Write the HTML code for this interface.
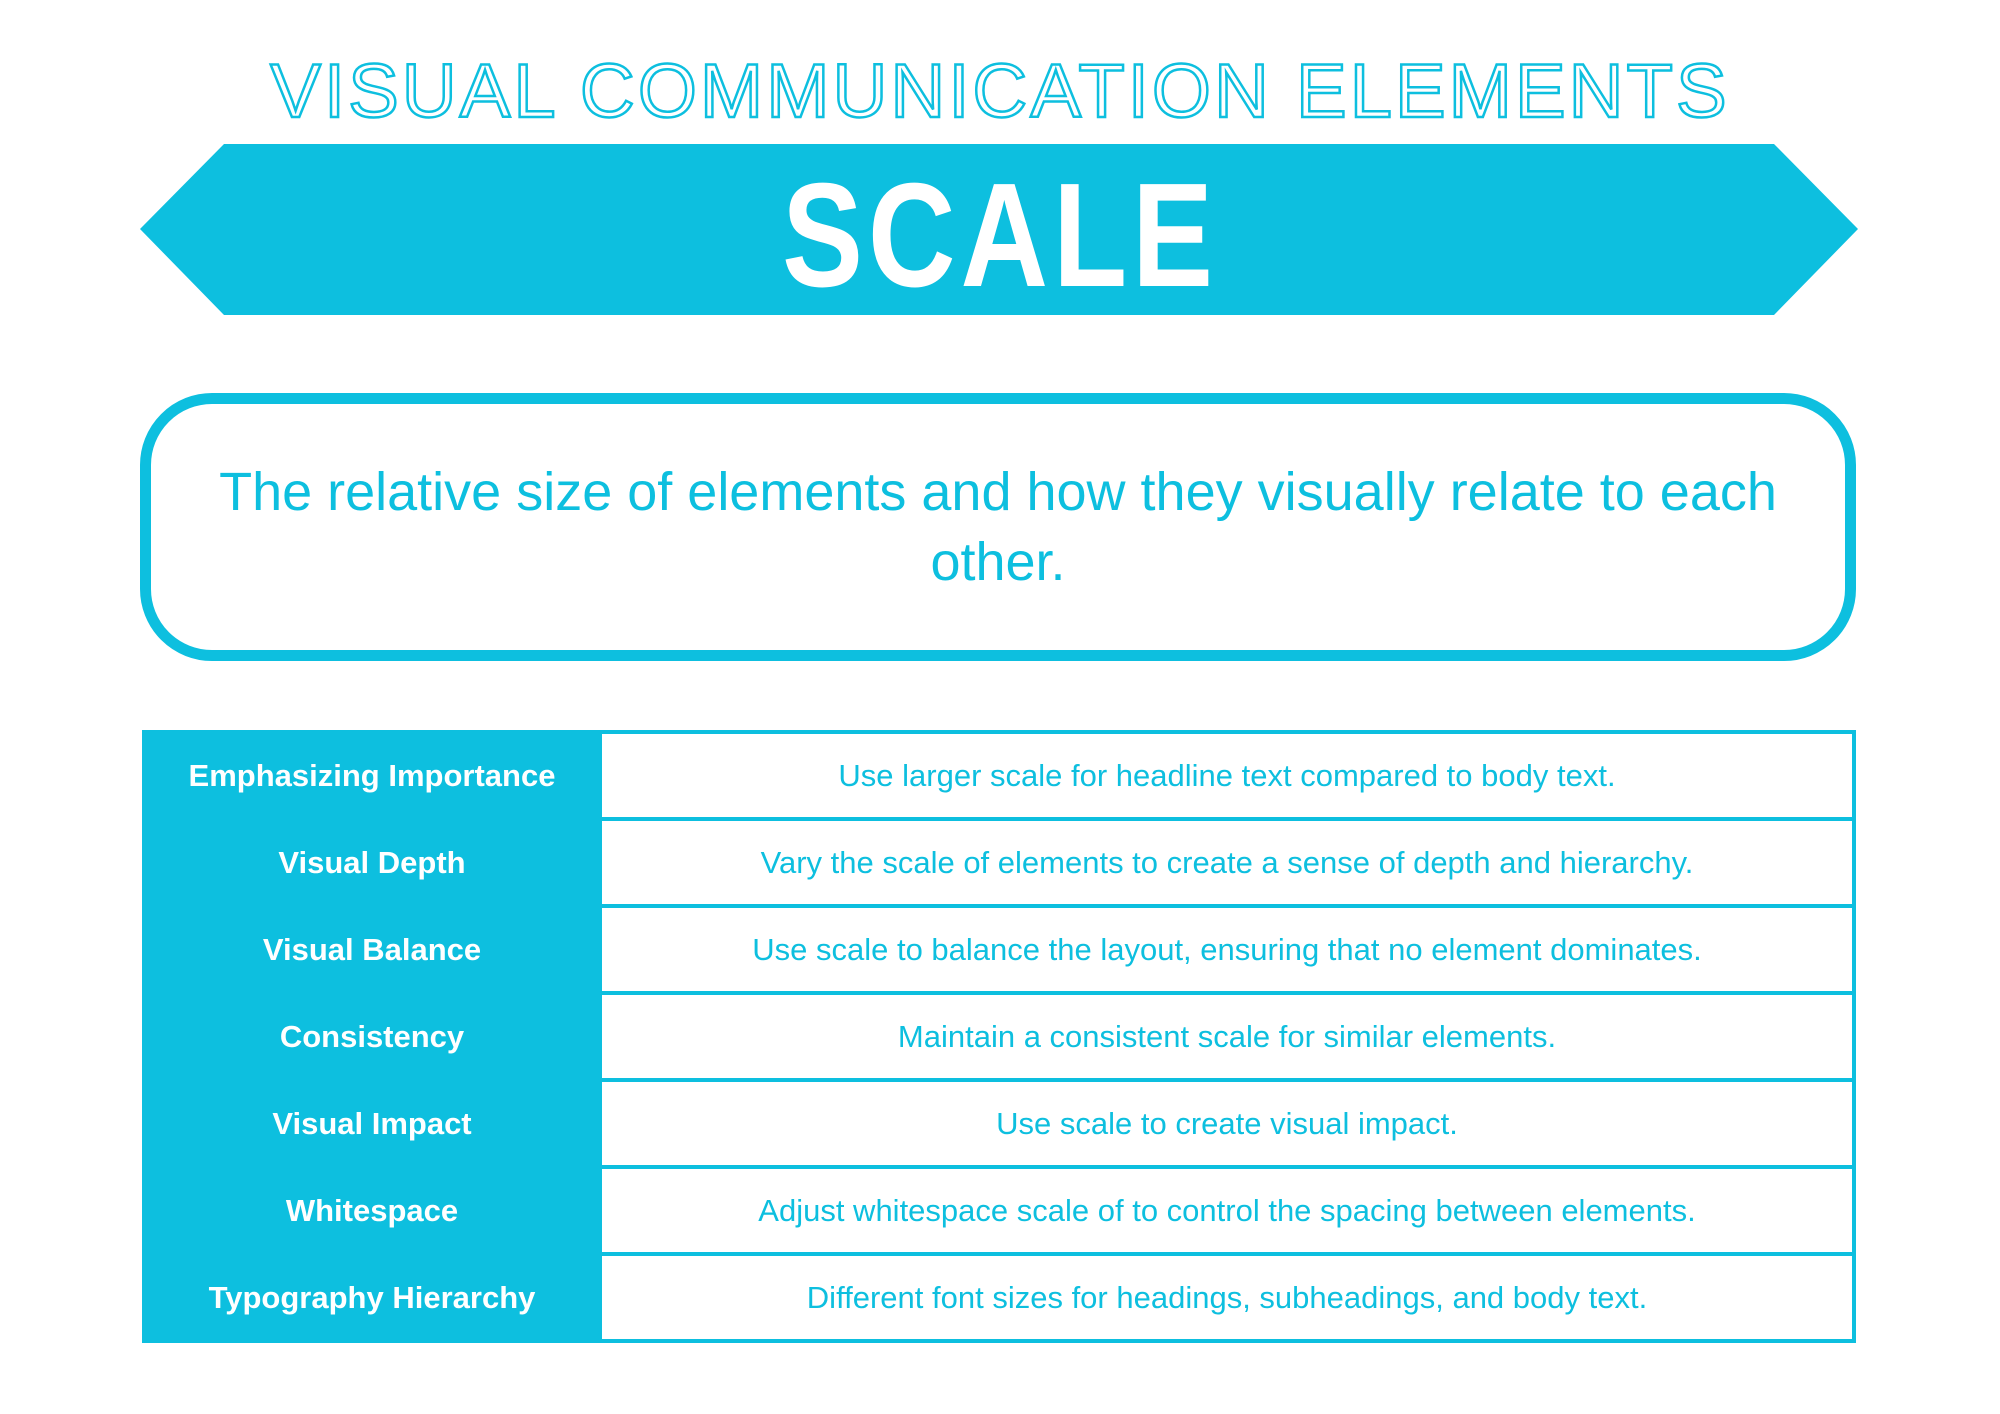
<!DOCTYPE html>
<html><head><meta charset="utf-8">
<style>
html,body{margin:0;padding:0;background:#fff;}
body{width:2000px;height:1414px;position:relative;overflow:hidden;font-family:"Liberation Sans",sans-serif;color:#0dbfdf;}
#title{position:absolute;left:0;width:2000px;top:48px;text-align:center;font-size:76px;letter-spacing:3px;color:#fff;-webkit-text-stroke:2.5px #0dbfdf;font-weight:normal;}
#banner{position:absolute;left:140px;top:144px;width:1718px;height:171px;}
#scale{position:absolute;left:0;width:2000px;top:150px;height:171px;line-height:171px;text-align:center;color:#fff;font-weight:bold;font-size:148px;letter-spacing:6px;transform:scaleX(0.82);}
#defbox{position:absolute;left:140px;top:393px;width:1716px;height:268px;border:11px solid #0dbfdf;border-radius:72px;display:flex;align-items:center;justify-content:center;text-align:center;font-size:54px;line-height:70px;box-sizing:border-box;}
#defbox span{display:block;width:1620px;}
table{position:absolute;left:142px;top:730px;width:1714px;border-collapse:collapse;}
td{height:83px;font-size:31px;text-align:center;padding:0;}
td.k{background:#0dbfdf;color:#fff;font-weight:bold;width:452px;border:4px solid #0dbfdf;}
td.v{background:#fff;border:4px solid #0dbfdf;}
</style></head>
<body>
<div id="title">VISUAL COMMUNICATION ELEMENTS</div>
<svg id="banner" viewBox="0 0 1718 171" width="1718" height="171">
<polygon points="84,0 1634,0 1718,85 1634,171 84,171 0,85" fill="#0dbfdf"/>
</svg>
<div id="scale">SCALE</div>
<div id="defbox"><span>The relative size of elements and how they visually relate to each other.</span></div>
<table>
<tr><td class="k">Emphasizing Importance</td><td class="v">Use larger scale for headline text compared to body text.</td></tr>
<tr><td class="k">Visual Depth</td><td class="v">Vary the scale of elements to create a sense of depth and hierarchy.</td></tr>
<tr><td class="k">Visual Balance</td><td class="v">Use scale to balance the layout, ensuring that no element dominates.</td></tr>
<tr><td class="k">Consistency</td><td class="v">Maintain a consistent scale for similar elements.</td></tr>
<tr><td class="k">Visual Impact</td><td class="v">Use scale to create visual impact.</td></tr>
<tr><td class="k">Whitespace</td><td class="v">Adjust whitespace scale of to control the spacing between elements.</td></tr>
<tr><td class="k">Typography Hierarchy</td><td class="v">Different font sizes for headings, subheadings, and body text.</td></tr>
</table>
</body></html>
